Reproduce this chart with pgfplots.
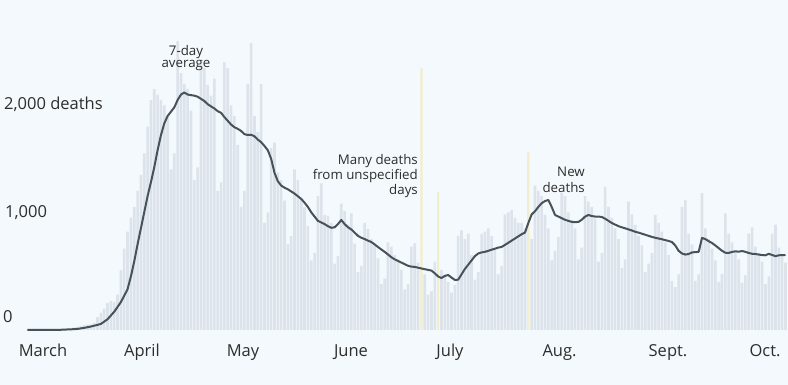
\documentclass[border=0pt]{standalone}
\usepackage{pgfplots}
\pgfplotsset{compat=1.18}
\usepackage{fontspec}
\setmainfont{Open Sans}
\definecolor{bgc}{RGB}{243,249,252}
\definecolor{barc}{RGB}{221,227,234}
\definecolor{yelc}{RGB}{242,238,204}
\definecolor{linec}{RGB}{72,82,90}
\definecolor{txt}{RGB}{45,45,45}
\begin{document}
\begin{tikzpicture}[x=1pt,y=1pt]
\fill[bgc] (0,0) rectangle (788,385);
\begin{axis}[at={(27pt,55pt)}, anchor=south west, scale only axis,
  width=761pt, height=330pt, xmin=-5.1, xmax=222.75, ymin=0, ymax=3084,
  hide axis, clip=false]
\addplot[ybar, bar width=2.6pt, bar shift=0pt, fill=barc, draw=none] coordinates {
(-5,0)(-4,0)(-3,0)(-2,1)(-1,0)
(0,1)(1,2)(2,3)(3,4)(4,5)(5,6)(6,8)
(7,9)(8,12)(9,24)(10,30)(11,38)(12,46)(13,50)
(14,52)(15,70)(16,120)(17,160)(18,200)(19,250)(20,270)
(21,260)(22,330)(23,560)(24,760)(25,920)(26,1050)(27,1150)
(28,1300)(29,1450)(30,1650)(31,1900)(32,2150)(33,2250)(34,2200)
(35,2150)(36,2100)(37,2000)(38,1500)(39,1650)(40,2700)(41,2400)
(42,2300)(43,2250)(44,2050)(45,1400)(46,1520)(47,2500)(48,2450)
(49,2290)(50,2190)(51,2350)(52,1300)(53,1380)(54,2500)(55,2450)
(56,2100)(57,2000)(58,1730)(59,1150)(60,1300)(61,2300)(62,2680)
(63,2000)(64,1850)(65,2300)(66,1000)(67,1100)(68,1700)(69,1750)
(70,1470)(71,1400)(72,1210)(73,800)(74,880)(75,1500)(76,1400)
(77,1230)(78,1145)(79,970)(80,650)(81,720)(82,1250)(83,1370)
(84,1075)(85,1070)(86,1000)(87,620)(88,690)(89,1180)(90,1110)
(91,985)(92,1090)(93,808)(94,540)(95,600)(96,1000)(97,945)
(98,850)(99,800)(100,670)(101,430)(102,480)(103,820)(104,780)
(105,700)(106,660)(107,562)(108,380)(109,430)(110,780)(111,810)
(112,630)(114,520)(115,330)(116,360)(117,640)
(119,560)(120,520)(121,450)(122,350)(123,420)(124,880)(125,930)
(126,850)(127,900)(128,700)(129,470)(130,540)(131,900)(132,920)
(133,950)(134,880)(135,760)(136,520)(137,600)(138,1080)(139,1100)
(140,1120)(141,1050)(142,1000)(143,1000)(144,950)(146,850)
(147,1350)(148,1300)(149,1250)(150,1075)(151,950)(152,650)(153,740)
(154,870)(155,1280)(156,1250)(157,1100)(158,1030)(159,950)(160,660)
(161,770)(162,1250)(163,1200)(164,1150)(165,1040)(166,640)(167,720)
(168,1340)(169,1150)(170,1050)(171,950)(172,850)(173,580)(174,660)
(175,1200)(176,1080)(177,980)(178,880)(179,790)(180,540)(181,620)
(182,720)(183,1075)(184,1000)(185,920)(186,820)(187,700)(188,460)
(189,400)(190,520)(191,1150)(192,1215)(193,900)(194,800)(195,460)
(196,520)(197,1280)(198,950)(199,850)(200,760)(201,650)(202,450)
(203,525)(204,1090)(205,900)(206,820)(207,740)(208,660)(209,440)
(210,510)(211,900)(212,960)(213,780)(214,720)(215,640)(216,430)
(217,500)(218,900)(219,985)(220,770)(221,700)(222,630)
};
\addplot[ybar, bar width=2.2pt, bar shift=0pt, fill=yelc, draw=none] coordinates {
(113,2450)(118,1290)(145,1660)
};
\addplot[color=linec, line width=2pt, line join=round, mark=none] coordinates {
(-5,0)(-3,0)(0,1)(3,1)(5,2)(7,5)(8,6)(9,8)(10,10)(11,15)(12,20)(13,26)
(14,32)(15,40)(16,48)(17,56)(18,78)(19,100)(20,135)(21,170)(22,215)(23,260)
(24,320)(25,380)(26,500)(27,640)(28,800)(29,950)(30,1100)(31,1250)(32,1380)
(33,1520)(34,1680)(35,1820)(36,1930)(37,2000)(38,2040)(39,2080)(40,2150)
(41,2200)(42,2220)(43,2200)(44,2195)(45,2190)(46,2180)(47,2160)(48,2140)
(49,2110)(50,2090)(51,2070)(52,2045)(53,2030)(54,1990)(55,1955)(56,1920)
(57,1895)(58,1880)(59,1860)(60,1830)(61,1822)(62,1825)(63,1810)(64,1780)
(65,1755)(66,1720)(67,1680)(68,1600)(69,1470)(70,1390)(71,1350)(72,1330)
(73,1315)(74,1295)(75,1275)(76,1250)(77,1225)(78,1190)(79,1150)(80,1100)
(81,1060)(82,1020)(83,1005)(84,990)(85,970)(86,955)(87,960)(88,990)
(89,1028)(90,990)(91,960)(92,940)(93,910)(94,880)(95,862)(96,850)(97,835)
(98,822)(99,800)(100,775)(101,752)(102,730)(103,705)(104,680)(105,660)
(106,645)(107,630)(108,615)(109,600)(110,592)(111,590)(112,582)(113,575)
(114,568)(115,562)(116,555)(117,530)(118,500)(119,486)(120,505)(121,514)
(122,490)(123,468)(124,470)(125,520)(126,570)(127,610)(128,650)(129,690)
(130,715)(131,725)(132,730)(133,740)(134,750)(135,760)(136,770)(137,776)
(138,795)(139,815)(140,835)(141,855)(142,875)(143,895)(144,910)(145,1000)
(146,1080)(147,1110)(148,1150)(149,1185)(150,1205)(151,1215)(152,1150)
(153,1075)(154,1060)(155,1045)(156,1030)(157,1020)(158,1010)(159,1008)
(160,1010)(161,1030)(162,1060)(163,1075)(164,1065)(165,1060)(166,1060)
(167,1056)(168,1040)(169,1020)(170,1000)(171,985)(172,970)(173,960)
(174,950)(175,940)(176,930)(177,918)(178,910)(179,900)(180,890)(181,880)
(182,870)(183,862)(184,855)(185,848)(186,840)(187,832)(188,822)(189,790)
(190,740)(191,715)(192,705)(193,710)(194,725)(195,728)(196,730)(197,860)
(198,850)(199,830)(200,813)(201,790)(202,765)(203,740)(204,722)(205,720)
(206,730)(207,735)(208,732)(209,738)(210,730)(211,720)(212,712)(213,710)
(214,705)(215,700)(216,698)(217,712)(218,701)(219,690)(220,698)(221,700)
(222,701)
};
\end{axis}
\begin{scope}[txt]
\fontsize{16.5}{19}\selectfont
\node[anchor=base west, inner sep=0] at (4,275) {2,000 deaths};
\node[anchor=base west, inner sep=0] at (5,167) {1,000};
\node[anchor=base west, inner sep=0] at (3,62) {0};
\node[anchor=base, inner sep=0] at (43,28) {March};
\node[anchor=base, inner sep=0] at (142,28) {April};
\node[anchor=base, inner sep=0] at (243,28) {May};
\node[anchor=base, inner sep=0] at (351,28) {June};
\node[anchor=base, inner sep=0] at (450,28) {July};
\node[anchor=base, inner sep=0] at (559.5,28) {Aug.};
\node[anchor=base, inner sep=0] at (668,28) {Sept.};
\node[anchor=base, inner sep=0] at (765,28) {Oct.};
\end{scope}
\begin{scope}[txt]
\fontsize{13.3}{15}\selectfont
\node[anchor=base, inner sep=0] at (186,329) {7-day};
\node[anchor=base, inner sep=0] at (186,317) {average};
\node[anchor=base east, inner sep=0] at (418,220) {Many deaths};
\node[anchor=base east, inner sep=0] at (418,205) {from unspecified};
\node[anchor=base east, inner sep=0] at (418,190) {days};
\node[anchor=base east, inner sep=0] at (585,208) {New};
\node[anchor=base east, inner sep=0] at (585,192) {deaths};
\end{scope}
\end{tikzpicture}
\end{document}
